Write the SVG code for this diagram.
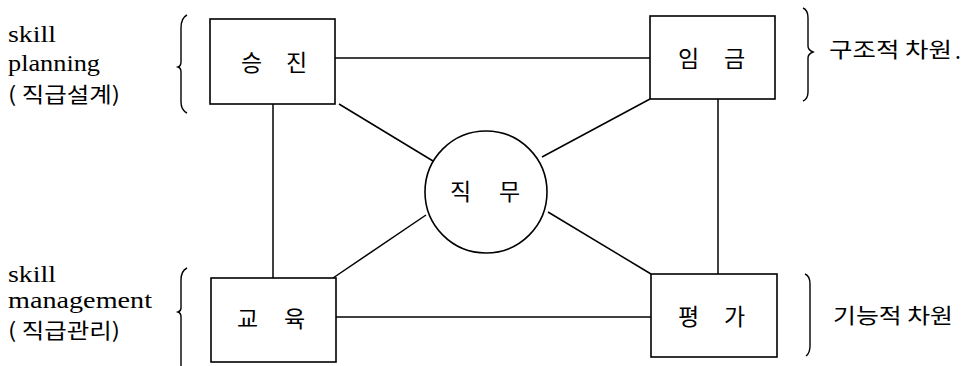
<svg xmlns="http://www.w3.org/2000/svg" width="963" height="366" viewBox="0 0 963 366">
<style>
.box{fill:#fff;stroke:#000;stroke-width:1.6}
.ln{fill:none;stroke:#000;stroke-width:1.5}
.br{fill:none;stroke:#000;stroke-width:1.4}
.k{font-family:"Noto Sans CJK KR","Noto Sans",sans-serif;font-size:23px;fill:#000}
.s{font-family:"Noto Sans CJK KR","Noto Sans",sans-serif;font-size:21px;fill:#000}
.e{font-family:"Liberation Serif","Noto Sans CJK KR",serif;font-size:24px;fill:#000}
</style>
<rect width="963" height="366" fill="#fff"/>
<g id="connectors">
<line class="ln" x1="335" y1="58" x2="650" y2="58"/>
<line class="ln" x1="336" y1="317" x2="651" y2="317"/>
<line class="ln" x1="273" y1="104" x2="273" y2="278"/>
<line class="ln" x1="718" y1="99" x2="718" y2="274"/>
<line class="ln" x1="339" y1="104" x2="433" y2="161"/>
<line class="ln" x1="650" y1="99" x2="542" y2="157"/>
<line class="ln" x1="333" y1="278" x2="426" y2="215"/>
<line class="ln" x1="651" y1="274" x2="548" y2="212"/>
</g>
<g id="n-seungjin">
<rect class="box" x="210" y="19" width="125" height="85"/>
<text class="k" x="241" y="71">승</text><text class="k" x="286" y="71">진</text>
</g>
<g id="n-imgeum">
<rect class="box" x="650" y="16" width="125" height="83"/>
<text class="k" x="678" y="67">임</text><text class="k" x="724" y="67">금</text>
</g>
<g id="n-gyoyuk">
<rect class="box" x="211" y="278" width="125" height="84"/>
<text class="k" x="237" y="327">교</text><text class="k" x="284" y="327">육</text>
</g>
<g id="n-pyeongga">
<rect class="box" x="651" y="274" width="126" height="83"/>
<text class="k" x="678" y="325">평</text><text class="k" x="724" y="325">가</text>
</g>
<g id="n-jikmu">
<circle class="box" cx="486" cy="192" r="61"/>
<text class="k" x="450" y="200">직</text><text class="k" x="499" y="200">무</text>
</g>
<g id="labels">
<text class="e" x="8" y="42" textLength="48" lengthAdjust="spacingAndGlyphs">skill</text>
<text class="e" x="8" y="71" textLength="92" lengthAdjust="spacingAndGlyphs">planning</text>
<text class="s" x="8" y="102" textLength="112" lengthAdjust="spacingAndGlyphs">( 직급설계)</text>
<text class="e" x="8" y="282" textLength="48" lengthAdjust="spacingAndGlyphs">skill</text>
<text class="e" x="8" y="308" textLength="144" lengthAdjust="spacingAndGlyphs">management</text>
<text class="s" x="8" y="338" textLength="112" lengthAdjust="spacingAndGlyphs">( 직급관리)</text>
<text class="s" x="829" y="57" textLength="123" lengthAdjust="spacingAndGlyphs">구조적 차원</text>
<text class="s" x="955" y="59" font-size="8">.</text>
<text class="s" x="833" y="323" textLength="120" lengthAdjust="spacingAndGlyphs">기능적 차원</text>
</g>
<g id="brackets">
<path class="br" d="M187,15 Q181,18 181,28 L181,62 Q181,66 178,67 Q181,68 181,72 L181,102 Q181,110 187,113"/>
<path class="br" d="M187,268 Q181,271 181,280 L181,308 Q181,311 178,312 Q181,313 181,317 L181,366"/>
<path class="br" d="M803,8 Q808,10 808,18 L808,46 Q808,50 813,52 Q808,54 808,58 L808,92 Q808,99 803,101"/>
<path class="br" d="M805,274 Q810,276 810,284 L810,346 Q810,353 806,356"/>
</g>
</svg>
